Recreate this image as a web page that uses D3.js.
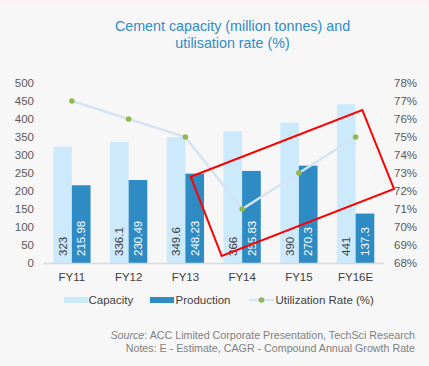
<!DOCTYPE html>
<html><head><meta charset="utf-8">
<script src="https://cdn.jsdelivr.net/npm/d3@7"></script>
<style>
html,body{margin:0;padding:0;background:#f7f7f7;}
svg{display:block;font-family:"Liberation Sans",Arial,sans-serif;}
</style></head>
<body>
<svg id="c" width="429" height="366"></svg>
<script>
const categories = ["FY11","FY12","FY13","FY14","FY15","FY16E"];
const capacity = [323, 336.1, 349.6, 366, 390, 441];
const production = [215.98, 230.49, 248.23, 255.83, 270.3, 137.3];
const utilization = [77, 76, 75, 71, 73, 75];
const leftTicks = [0,50,100,150,200,250,300,350,400,450,500];
const rightTicks = [68,69,70,71,72,73,74,75,76,77,78];

const FS = 11.5;
const svg = d3.select("#c");
svg.append("rect").attr("width",429).attr("height",366).attr("fill","#f7f7f7");
svg.append("rect").attr("width",429).attr("height",3).attr("fill","#fdf3f5");

const x0 = d3.scaleBand().domain(categories).range([43.5,384]).padding(0);
const sub = d3.scaleBand().domain(["cap","prod"]).range([0, x0.bandwidth()]).paddingInner(0).paddingOuter(0.52);
const yL = d3.scaleLinear().domain([0,500]).range([263,83]);
const yR = d3.scaleLinear().domain([68,78]).range([263,83]);

// title
const title = svg.append("text").attr("x",232.5).attr("text-anchor","middle")
  .attr("fill","#2f8cc8").attr("font-size",14.3);
title.append("tspan").attr("x",232.5).attr("y",31).text("Cement capacity (million tonnes) and");
title.append("tspan").attr("x",232.5).attr("y",48).text("utilisation rate (%)");

// left axis
const axL = svg.append("g").attr("transform","translate(34,0)")
  .call(d3.axisLeft(yL).tickValues(leftTicks).tickSize(0).tickPadding(0));
axL.select(".domain").remove();
axL.selectAll("text").attr("fill","#595959").attr("font-size",FS).attr("font-family","Liberation Sans, Arial, sans-serif");

const axR = svg.append("g").attr("transform","translate(394,0)")
  .call(d3.axisRight(yR).tickValues(rightTicks).tickSize(0).tickPadding(0).tickFormat(d=>d+"%"));
axR.select(".domain").remove();
axR.selectAll("text").attr("fill","#595959").attr("font-size",FS).attr("font-family","Liberation Sans, Arial, sans-serif");

// bars
const g = svg.append("g");
const groups = g.selectAll("g.cat").data(categories).join("g")
  .attr("transform", d=>`translate(${x0(d)},0)`);
groups.append("rect").attr("x",sub("cap")).attr("width",sub.bandwidth())
  .attr("y",(d,i)=>yL(capacity[i])).attr("height",(d,i)=>yL(0)-yL(capacity[i])).attr("fill","#cdeafc");
groups.append("rect").attr("x",sub("prod")).attr("width",sub.bandwidth())
  .attr("y",(d,i)=>yL(production[i])).attr("height",(d,i)=>yL(0)-yL(production[i])).attr("fill","#2e8bc4");

// value labels
groups.append("text").attr("transform",(d,i)=>`translate(${sub("cap")+sub.bandwidth()/2+4.2},${yL(0)-7}) rotate(-90)`)
  .attr("font-size",FS).attr("fill","#404040").text((d,i)=>capacity[i]);
groups.append("text").attr("transform",(d,i)=>`translate(${sub("prod")+sub.bandwidth()/2+4.2},${yL(0)-7}) rotate(-90)`)
  .attr("font-size",FS).attr("fill","#ffffff").text((d,i)=>production[i]);

// baseline
svg.append("line").attr("x1",43.5).attr("x2",384).attr("y1",yL(0)+0.5).attr("y2",yL(0)+0.5)
  .attr("stroke","#d9d9d9").attr("stroke-width",1.5);

// x labels
svg.append("g").selectAll("text").data(categories).join("text")
  .attr("x",d=>x0(d)+x0.bandwidth()/2).attr("y",281).attr("text-anchor","middle")
  .attr("fill","#404040").attr("font-size",FS).text(d=>d);

// line
const cx = d => x0(d)+x0.bandwidth()/2;
const line = d3.line().x((d,i)=>cx(categories[i])).y(d=>yR(d));
svg.append("path").datum(utilization).attr("d",line).attr("fill","none")
  .attr("stroke","#d5e3f4").attr("stroke-width",2.5);
svg.append("g").selectAll("circle").data(utilization).join("circle")
  .attr("cx",(d,i)=>cx(categories[i])).attr("cy",d=>yR(d)).attr("r",2.8).attr("fill","#8fba4c");

// red annotation box
const box = [[190.7,176.7],[362.3,110],[394,189],[221.7,256]];
svg.append("polygon").attr("points",box.map(p=>p.join(",")).join(" "))
  .attr("fill","none").attr("stroke","#ff0000").attr("stroke-width",2);

// legend
const lg = svg.append("g").attr("font-size",FS).attr("fill","#404040");
lg.append("rect").attr("x",64).attr("y",297).attr("width",24).attr("height",6).attr("fill","#cdeafc");
lg.append("text").attr("x",88.5).attr("y",304).attr("fill","#404040").text("Capacity");
lg.append("rect").attr("x",150).attr("y",297).attr("width",24).attr("height",6).attr("fill","#2e8bc4");
lg.append("text").attr("x",175.5).attr("y",304).attr("fill","#404040").text("Production");
lg.append("line").attr("x1",249).attr("x2",274).attr("y1",300).attr("y2",300).attr("stroke","#d5e3f4").attr("stroke-width",2.5);
lg.append("circle").attr("cx",261.5).attr("cy",300).attr("r",2.8).attr("fill","#8fba4c");
lg.append("text").attr("x",275.5).attr("y",304).attr("fill","#404040").text("Utilization Rate (%)");

// source
const src = svg.append("text").attr("x",415).attr("y",339).attr("text-anchor","end").attr("font-size",10.7).attr("fill","#7f7f7f");
src.append("tspan").attr("font-style","italic").text("Source");
src.append("tspan").text(": ACC Limited Corporate Presentation, TechSci Research");
svg.append("text").attr("x",415).attr("y",352).attr("text-anchor","end").attr("font-size",10.7).attr("fill","#7f7f7f")
  .text("Notes: E - Estimate, CAGR - Compound Annual Growth Rate");
</script>
</body></html>
